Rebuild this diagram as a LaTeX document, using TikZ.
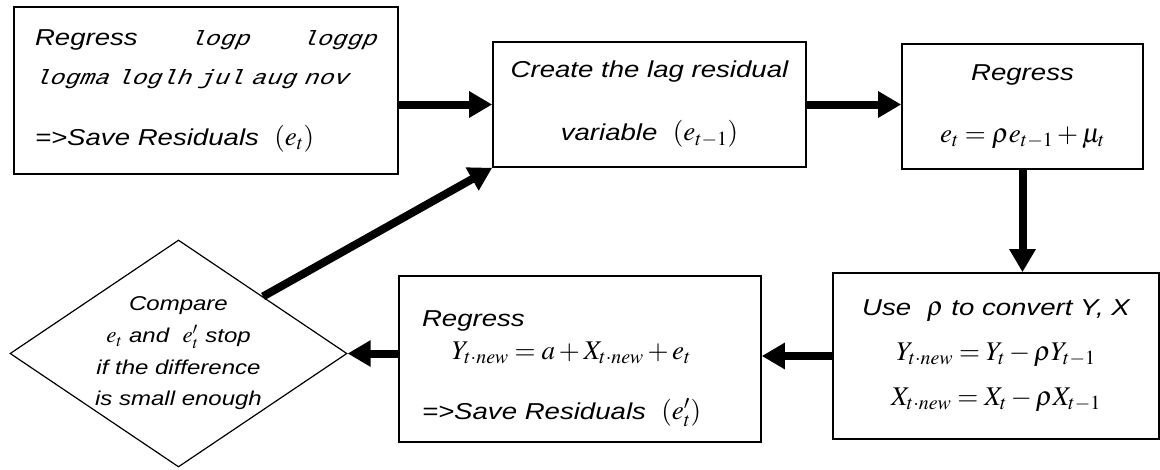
\documentclass[tikz,border=0pt]{standalone}
\usepackage{mathptmx}
\usepackage[no-math]{fontspec}
\setmainfont{Liberation Sans}[FakeStretch=1.2]
\newfontfamily\varsfont{Liberation Mono}[FakeStretch=1.2, FakeSlant=0.2]
\usetikzlibrary{arrows.meta,shapes.geometric}

\newcommand\vars[1]{{\fontsize{20.7}{39}\varsfont #1}}
\newcommand\mth[2][27]{{\fontsize{#1}{#1}\selectfont$#2$}}

\tikzset{
  stepbox/.style={draw, line width=1.6pt, inner sep=0pt},
  cmpbox/.style={draw, diamond, line width=1.2pt, inner sep=0pt, aspect=1.48,
    minimum width=337pt, minimum height=227pt, align=center,
    font=\fontsize{20}{31.7}\selectfont\itshape},
  arr/.style={line width=8pt, -{Triangle[length=23pt,width=25pt]}}
}

\begin{document}
\begin{tikzpicture}[x=1pt, y=-1pt]
			%%%%% START %%%%%
			\useasboundingbox (0,0) rectangle (1160,469);
			
			\node[stepbox, minimum width=384pt, minimum height=167pt, text width=342pt, align=left,
			  font=\fontsize{23}{39}\selectfont\itshape] (ols) at (206,90.5)
			  {\hbox to 342pt{Regress\hfill\vars{logp}\hfill\vars{loggp}}\\
			   \vars{logma loglh jul aug nov}\\[22pt]
			   =>Save Residuals \ \mth{(e_t)}};
			
			\node[stepbox, minimum width=313pt, minimum height=125pt, align=center,
			  font=\fontsize{23}{63}\selectfont\itshape] (lag) at (649.5,104.5)
			  {Create the lag residual\\ variable \ \mth{(e_{t-1})}};
			
			\node[stepbox, minimum width=241pt, minimum height=125pt, align=center,
			  font=\fontsize{23}{62}\selectfont\itshape] (rho) at (1022.5,106.5)
			  {Regress\\ \mth{e_t = \rho e_{t-1} + \mu_t}};
			
			\node[stepbox, minimum width=326pt, minimum height=166pt, align=center,
			  font=\fontsize{23}{45}\selectfont\itshape] (conv) at (996,356)
			  {Use \ \mth{\rho} to convert Y, X\\
			   \mth{Y_{t\cdot new} = Y_t - \rho Y_{t-1}}\\
			   \mth{X_{t\cdot new} = X_t - \rho X_{t-1}}};
			
			\node[stepbox, minimum width=362pt, minimum height=166pt, text width=316pt, align=left,
			  font=\fontsize{23}{33}\selectfont\itshape] (ols2) at (580,359)
			  {\rule{0pt}{35pt}Regress\\
			   \hspace*{30pt}\mth{Y_{t\cdot new} = a + X_{t\cdot new} + e_t}\\[27pt]
			   =>Save Residuals \ \mth{(e'_t)}};
			
			\node[cmpbox] (cmp) at (178.5,353.5)
			  {Compare\\ \mth[23]{e_t} and \ \mth[23]{e'_t} stop\\ if the difference\\ is small enough};
			
			\draw[arr] (ols.east |- lag.west) -- (lag.west);
			\draw[arr] (lag.east) -- (lag.east -| rho.west);
			\draw[arr] (rho.south) -- (rho.south |- conv.north);
			\draw[arr] (conv.west) -- (conv.west -| ols2.east);
			\draw[arr] (ols2.west |- cmp.east) -- (cmp.east);
			\draw[arr] (cmp.north east) -- (lag.south west);
			
			%%%%% END %%%%%
\end{tikzpicture}
\end{document}
